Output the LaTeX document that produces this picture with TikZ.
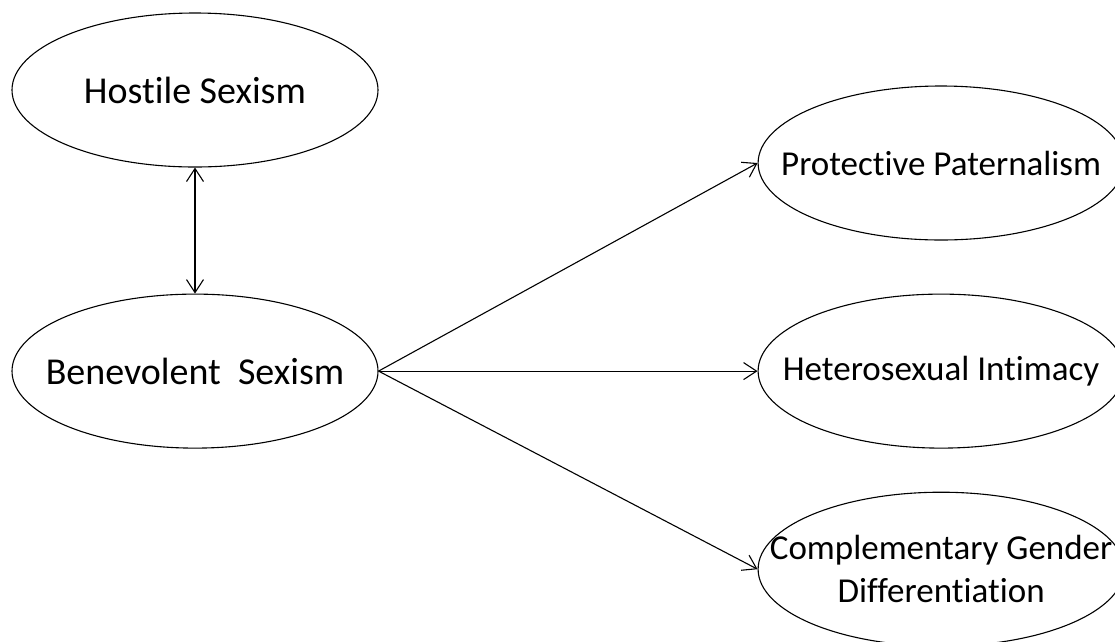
\documentclass[tikz,border=0pt]{standalone}
\usepackage{fontspec}
\setmainfont{Carlito}[Ligatures=NoCommon]
\usetikzlibrary{shapes.geometric, arrows.meta, positioning}

\begin{document}
\begin{tikzpicture}[
    x=1pt, y=1pt,
    node distance=126pt and 379pt,
    base/.style={draw, ellipse, line width=1.1pt, inner sep=0pt, minimum width=366pt, minimum height=154pt},
    factor/.style={base, label={[font=\fontsize{35}{43}\selectfont, align=center]center:{#1}}},
    bigfactor/.style={base, label={[font=\fontsize{38}{46}\selectfont, align=center]center:{#1}}},
    arrow/.style={-{Straight Barb[length=13pt,width=17pt]}, line width=1.1pt},
    twoway/.style={{Straight Barb[length=13pt,width=17pt]}-{Straight Barb[length=13pt,width=17pt]}, line width=1.1pt}
]
    \useasboundingbox (0,0) rectangle (1115,-641);

    \node [bigfactor={Hostile Sexism}] (hostile) at (195,-90) {};
    \node [bigfactor={Benevolent\ \ Sexism}] (benev) [below=of hostile] {};
    \node [factor={Heterosexual Intimacy}] (hetero) [right=of benev] {};
    \node [factor={Protective Paternalism}] (protect) [above=53pt of hetero] {};
    \node [factor={Complementary Gender\\Differentiation}] (compl) [below=43pt of hetero] {};

    \draw [twoway] (hostile) -- (benev);

    \draw [arrow] (benev.east) -- (protect.west);
    \draw [arrow] (benev.east) -- (hetero);
    \draw [arrow] (benev.east) -- (compl.west);

\end{tikzpicture}
\end{document}
